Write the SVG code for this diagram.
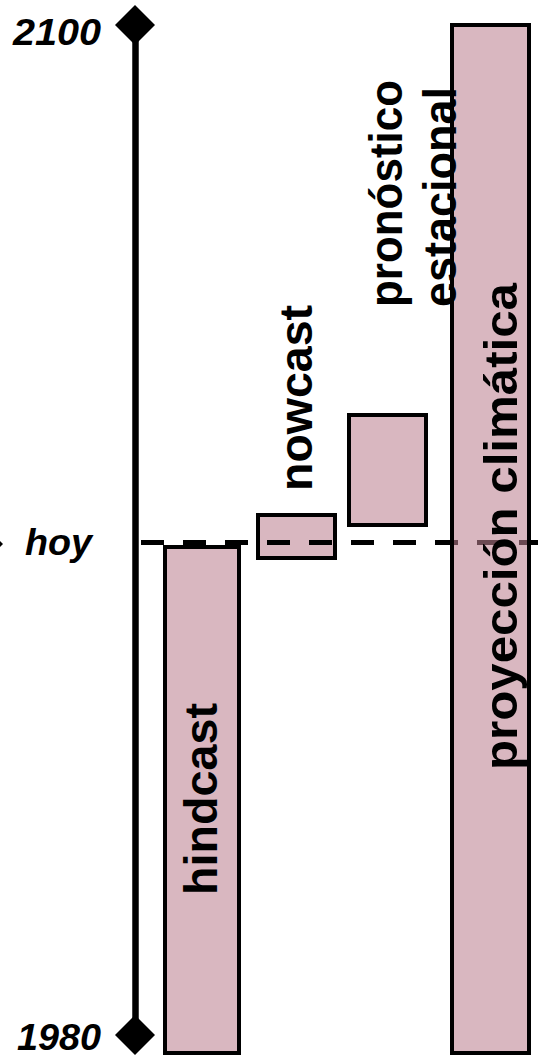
<svg xmlns="http://www.w3.org/2000/svg" width="538" height="1060" viewBox="0 0 538 1060">
  <style>
    .bar { fill: #d9b7c0; stroke: #000; stroke-width: 4; }
    .bar-see { fill: rgb(188,129,145); fill-opacity: 0.57; stroke: #000; stroke-width: 4; }
    .lbl { font-family: "Liberation Sans", Arial, sans-serif; font-weight: bold; font-size: 47px; fill: #000; }
    .tick { font-family: "Liberation Sans", Arial, sans-serif; font-weight: bold; font-style: italic; font-size: 37px; fill: #000; text-anchor: end; }
  </style>
  <rect width="538" height="1060" fill="#fff"/>

  <!-- time axis with diamond ends -->
  <g id="axis">
    <line x1="135.5" y1="25" x2="135.5" y2="1035" stroke="#000" stroke-width="6.5"/>
    <polygon points="135,5 155,25 135,45 115,25" fill="#000"/>
    <polygon points="135,1015 155,1035 135,1055 115,1035" fill="#000"/>
    <text class="tick" x="101" y="45" textLength="88" lengthAdjust="spacingAndGlyphs">2100</text>
    <text class="tick" x="101" y="1050" textLength="84" lengthAdjust="spacingAndGlyphs">1980</text>
  </g>

  <g id="hindcast">
    <rect class="bar" x="165" y="547" width="74" height="506"/>
    <text class="lbl" transform="translate(217,895) rotate(-90)" textLength="192" lengthAdjust="spacingAndGlyphs">hindcast</text>
  </g>

  <g id="nowcast">
    <rect class="bar" x="258" y="515" width="77" height="43"/>
    <text class="lbl" transform="translate(312,491) rotate(-90)" textLength="186" lengthAdjust="spacingAndGlyphs">nowcast</text>
  </g>

  <g id="pronostico">
    <rect class="bar" x="349" y="415" width="77" height="110"/>
  </g>

  <!-- present-day marker -->
  <g id="connectors">
    <line x1="141" y1="542.5" x2="538" y2="542.5" stroke="#000" stroke-width="5" stroke-dasharray="23 19"/>
    <polygon points="0,541 3,544 0,547" fill="#000"/>
  </g>

  <g id="hoy">
    <text class="tick" x="92" y="555" textLength="67" lengthAdjust="spacingAndGlyphs">hoy</text>
  </g>

  <g id="proyeccion">
    <rect class="bar-see" x="452" y="25" width="77" height="1028"/>
    <text class="lbl" transform="translate(517,770) rotate(-90)" textLength="487" lengthAdjust="spacingAndGlyphs">proyección climática</text>
  </g>

  <g id="pronostico-label">
    <text class="lbl" transform="translate(402,307) rotate(-90)" textLength="227" lengthAdjust="spacingAndGlyphs">pronóstico</text>
    <text class="lbl" transform="translate(456,307) rotate(-90)" textLength="220" lengthAdjust="spacingAndGlyphs">estacional</text>
  </g>
</svg>
